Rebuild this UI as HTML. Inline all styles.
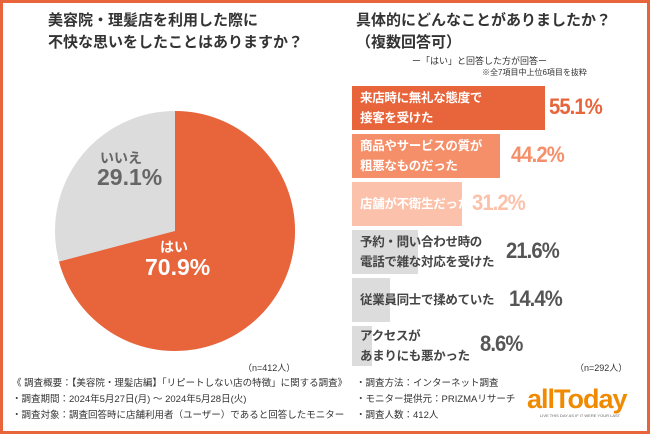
<!DOCTYPE html>
<html><head><meta charset="utf-8"><style>
body{margin:0;width:650px;height:434px;overflow:hidden;background:#fff;font-family:"Liberation Sans","Noto Sans CJK JP",sans-serif;}
.frame{position:absolute;left:0;top:0;width:644px;height:428px;border:3px solid #e8643a;}
.t{position:absolute;white-space:nowrap;}
.bar{position:absolute;left:352px;}
.bl{position:absolute;left:360px;font-size:12.5px;font-weight:bold;line-height:20px;letter-spacing:-0.3px;}
.pc{position:absolute;font-size:22px;font-weight:bold;letter-spacing:-1px;transform:scaleX(0.92);transform-origin:left;}
.ft{font-size:9.5px;color:#333;line-height:16px;}
</style></head><body>
<div class="frame"></div>
<div class="t" style="left:48px;top:10px;font-size:15px;font-weight:bold;color:#333;line-height:22px;">美容院・理髪店を利用した際に<br>不快な思いをしたことはありますか？</div>
<svg style="position:absolute;left:0;top:0" width="650" height="434">
<circle cx="175" cy="231" r="120" fill="#dcdcdc"/>
<path d="M175,231 L175,111 A120,120 0 1,1 59,261.6 Z" fill="#e8643a"/>
</svg>
<div class="t" style="left:100px;top:148px;font-size:14px;font-weight:bold;color:#666;">いいえ</div>
<div class="t" style="left:97px;top:164px;font-size:23px;font-weight:bold;color:#666;">29.1%</div>
<div class="t" style="left:160px;top:237px;font-size:14px;font-weight:bold;color:#fff;">はい</div>
<div class="t" style="left:145px;top:254px;font-size:23px;font-weight:bold;color:#fff;">70.9%</div>
<div class="t" style="left:243px;top:361px;font-size:9px;color:#333;">（n=412人）</div>

<div class="t" style="left:356px;top:10px;font-size:15px;font-weight:bold;color:#333;line-height:22px;">具体的にどんなことがありましたか？<br>（複数回答可）</div>
<div class="t" style="left:412px;top:54px;font-size:9px;color:#333;">ー「はい」と回答した方が回答ー</div>
<div class="t" style="left:482px;top:67px;font-size:8px;color:#333;">※全7項目中上位6項目を抜粋</div>

<div class="bar" style="top:86px;width:193px;height:44px;background:#e8643a"></div>
<div class="bar" style="top:134px;width:148px;height:44px;background:#f58f69"></div>
<div class="bar" style="top:182px;width:110px;height:44px;background:#fbc1aa"></div>
<div class="bar" style="top:230px;width:66px;height:44px;background:#dcdcdc"></div>
<div class="bar" style="top:278px;width:38px;height:44px;background:#dcdcdc"></div>
<div class="bar" style="top:326px;width:20px;height:40px;background:#dcdcdc"></div>

<div class="bl" style="top:88px;color:#fff">来店時に無礼な態度で<br>接客を受けた</div>
<div class="pc" style="left:549px;top:94px;color:#e8643a">55.1%</div>
<div class="bl" style="top:136px;color:#fff">商品やサービスの質が<br>粗悪なものだった</div>
<div class="pc" style="left:511px;top:142px;color:#f58f69">44.2%</div>
<div class="bl" style="top:194px;color:#fff">店舗が不衛生だった</div>
<div class="pc" style="left:472px;top:190px;color:#fbc1aa">31.2%</div>
<div class="bl" style="top:232px;color:#444">予約・問い合わせ時の<br>電話で雑な対応を受けた</div>
<div class="pc" style="left:506px;top:238px;color:#555">21.6%</div>
<div class="bl" style="top:290px;color:#444">従業員同士で揉めていた</div>
<div class="pc" style="left:509px;top:286px;color:#555">14.4%</div>
<div class="bl" style="top:326px;color:#444">アクセスが<br>あまりにも悪かった</div>
<div class="pc" style="left:480px;top:331px;color:#555">8.6%</div>
<div class="t" style="left:575px;top:361px;font-size:9px;color:#333;">（n=292人）</div>

<div class="t ft" style="left:12px;top:376px;">《 調査概要：【美容院・理髪店編】「リピートしない店の特徴」に関する調査》<br>・調査期間：2024年5月27日(月) ～ 2024年5月28日(火)<br>・調査対象：調査回答時に店舗利用者（ユーザー）であると回答したモニター</div>
<div class="t ft" style="left:356px;top:376px;">・調査方法：インターネット調査<br>・モニター提供元：PRIZMAリサーチ<br>・調査人数：412人</div>
<div class="t" style="left:527px;top:384px;font-size:27px;font-weight:bold;color:#f08a00;letter-spacing:-1px;">allToday</div>
<div class="t" style="left:540px;top:413px;font-size:4px;color:#666;">LIVE THIS DAY AS IF IT WERE YOUR LAST</div>
</body></html>
